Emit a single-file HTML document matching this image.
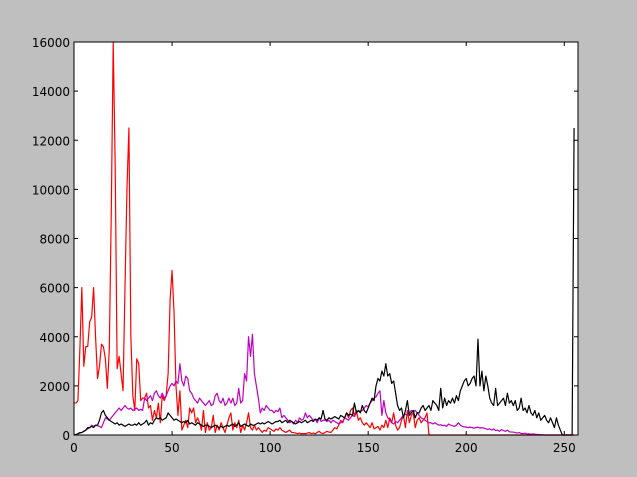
<!DOCTYPE html>
<html><head><meta charset="utf-8"><style>
body{margin:0;background:#bfbfbf;}
svg{display:block;font-family:"DejaVu Sans","Liberation Sans",sans-serif;}
</style></head><body>
<svg id="chart" width="637" height="477" viewBox="0 0 637 477">
<rect x="0" y="0" width="637" height="477" fill="#bfbfbf"/>
<rect x="74" y="42" width="504" height="393" fill="#fff"/>
<g id="series"></g>
<g id="axes"></g>
<rect x="74" y="42" width="504" height="393" fill="none" stroke="#000" stroke-width="1"/>
</svg>
<script>
const xTicks=[0,50,100,150,200,250];
const yTicks=[0,2000,4000,6000,8000,10000,12000,14000,16000];
const redValues=[1300,1300,1400,3500,6000,2800,3600,3600,4600,4800,6000,4000,2300,2800,3700,3600,
3100,1900,3500,9000,16000,11000,2700,3200,2500,1800,6000,10000,12500,4000,1600,1000,
3100,2900,1400,1500,1500,1700,1100,1200,600,1000,700,1300,500,1600,1400,1600,
2500,5500,6700,5000,2000,800,1800,200,400,600,300,1100,900,1100,500,700,
500,200,1000,100,500,200,300,800,100,400,200,500,300,100,400,700,
900,200,500,300,600,100,400,200,500,900,300,200,400,200,300,200,
100,200,150,300,250,200,150,250,200,300,200,150,100,150,200,100,
100,80,60,80,50,60,50,80,100,60,80,50,100,150,80,60,
100,150,120,100,200,300,250,400,600,500,700,900,700,1000,1100,800,
1000,600,700,500,400,500,400,300,500,250,300,350,200,400,300,600,
300,700,500,900,400,200,300,600,800,300,1000,500,800,900,300,600,
700,500,600,700,900,0,0,0,0,0,0,0,0,0,0,0,
0,0,0,0,0,0,0,0,0,0,0,0,0,0,0,0,
0,0,0,0,0,0,0,0,0,0,0,0,0,0,0,0,
0,0,0,0,0,0,0,0,0,0,0,0,0,0,0,0,
0,0,0,0,0,0,0,0,0,0,0,0,0,0,0,0];
const magentaValues=[0,20,50,80,100,150,200,250,300,400,350,400,380,350,300,500,
700,650,600,700,800,900,1000,1100,1000,1100,1200,1100,1050,1100,1000,1050,
1100,1000,1050,1000,1500,1400,1500,1600,1400,1700,1800,1600,1500,1700,1500,1600,
1800,2000,2100,2000,2200,2100,2900,2200,2000,2400,2300,1800,1700,1500,1400,1300,
1500,1400,1300,1200,1300,1400,1200,1250,1600,1700,1400,1300,1500,1200,1300,1500,
1300,1500,1200,1300,1900,1300,1400,2500,2200,4000,3200,4100,2500,2000,1500,900,
1100,1000,1200,1100,1000,1000,900,1000,950,1100,700,800,700,600,500,550,
450,600,500,700,600,650,900,700,800,700,600,650,500,700,550,600,
600,550,600,500,600,550,500,450,500,550,700,650,600,700,800,750,
900,1000,950,1000,1100,1200,1150,1300,1400,1500,1550,1700,1800,800,1400,900,
700,600,500,450,550,500,600,700,800,850,800,900,1000,950,1000,900,
800,700,650,600,550,500,500,450,500,450,400,420,380,400,350,450,
400,380,350,400,500,400,350,330,320,300,320,300,280,300,320,280,
300,280,250,220,250,200,250,180,200,150,220,180,150,200,130,120,
120,100,80,100,60,50,80,40,50,30,40,30,20,20,10,10,
0,0,0,0,0,0,0,0,0,0,0,0,0,0,0,0];
const blackValues=[0,20,50,100,100,150,200,300,300,350,300,400,400,600,900,1000,
800,700,600,550,500,450,500,400,450,400,350,400,450,400,400,450,
400,500,400,450,500,600,400,500,450,600,700,650,700,600,650,700,
900,800,700,600,650,600,550,500,550,500,600,450,500,450,400,500,
450,400,350,400,400,350,300,350,400,350,300,350,300,350,400,350,
400,450,350,400,500,350,400,450,400,350,450,400,400,450,500,450,
500,450,500,550,500,450,500,550,550,600,500,550,600,500,600,550,
500,450,500,550,500,550,600,500,550,600,550,650,600,700,650,1000,
650,600,700,650,700,750,700,650,800,750,700,900,800,850,800,1300,
900,1000,900,1200,1000,900,1100,1300,1500,1400,2000,2300,2200,2600,2400,2900,
2400,2500,2100,2200,1700,1200,1000,1100,700,1000,1400,800,900,1000,700,900,
900,1100,1200,1000,1100,1200,1000,1400,1300,1200,1000,1900,1100,1500,1200,1400,
1300,1500,1300,1600,1400,1800,2000,2200,2300,2000,2100,2300,2400,2000,3900,2000,
2600,1800,2400,2000,1500,1300,1200,1900,1200,1300,1400,1500,1200,1700,1300,1400,
1200,1400,1000,1100,1500,1000,1100,900,1200,900,800,1000,700,900,600,700,
800,600,500,700,500,300,700,400,200,0,0,0,0,0,0,12500];

const L=74,R=578,T=42,B=435,XMAX=257,YMAX=16000;
const xs=v=>L+v*(R-L)/XMAX;
const ys=v=>B-v*(B-T)/YMAX;
const NS="http://www.w3.org/2000/svg";
const sg=document.getElementById('series');
const ag=document.getElementById('axes');
function mk(tag,attrs,parent){const e=document.createElementNS(NS,tag);for(const k in attrs)e.setAttribute(k,attrs[k]);parent.appendChild(e);return e;}
function drawLine(vals,color,name){
  const d=vals.map((v,i)=>(i?'L':'M')+xs(i).toFixed(2)+' '+ys(v).toFixed(2)).join(' ');
  const p=mk('path',{d:d,fill:'none',stroke:color,'stroke-width':1.2,'stroke-linejoin':'round'},sg);
  
  
}
drawLine(redValues,'#ff0000','red-series-line');
drawLine(magentaValues,'#bf00bf','magenta-series-line');
drawLine(blackValues,'#000000','black-series-line');
xTicks.forEach(t=>{
  const x=xs(t);
  const a=mk('line',{x1:x,x2:x,y1:B,y2:B-4,stroke:'#000'},ag);
  
  
  const b=mk('line',{x1:x,x2:x,y1:T,y2:T+4,stroke:'#000'},ag);
  
  
  const tx=mk('text',{x:x,y:B+17,'text-anchor':'middle','font-size':12},ag);
  tx.textContent=t;
  
  
});
yTicks.forEach(t=>{
  const y=ys(t);
  const a=mk('line',{x1:L,x2:L+4,y1:y,y2:y,stroke:'#000'},ag);
  
  
  const b=mk('line',{x1:R,x2:R-4,y1:y,y2:y,stroke:'#000'},ag);
  
  
  const tx=mk('text',{x:L-4,y:y+5,'text-anchor':'end','font-size':12},ag);
  tx.textContent=t;
  
  
});
</script>
</body></html>
